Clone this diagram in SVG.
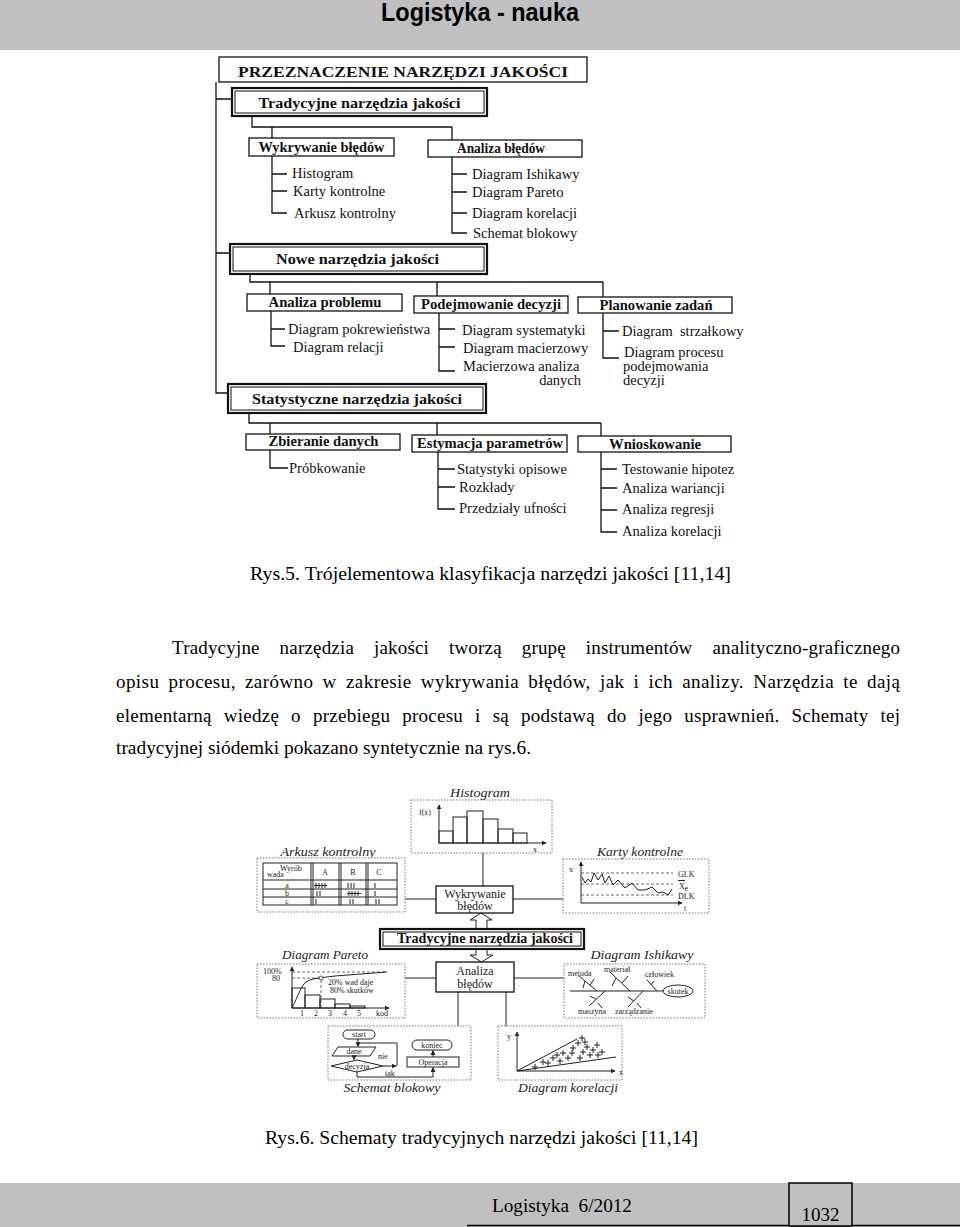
<svg xmlns="http://www.w3.org/2000/svg" width="960" height="1227" viewBox="0 0 960 1227">
<defs>
<style>
.bx{fill:#fff;stroke:#111;stroke-width:1.3}
.bo{fill:#fff;stroke:#111;stroke-width:2.2}
.bi{fill:none;stroke:#111;stroke-width:1}
.ln{fill:none;stroke:#111;stroke-width:1.3}
.tl{fill:none;stroke:#222;stroke-width:1}
.dot{fill:#fff;stroke:#777;stroke-width:1;stroke-dasharray:1.5 1.5}
.dsh{fill:none;stroke:#444;stroke-width:0.8;stroke-dasharray:3 2}
.h{font-family:"Liberation Serif",serif;font-weight:bold;font-size:15px;fill:#111;text-anchor:middle}
.it{font-family:"Liberation Serif",serif;font-size:14.5px;fill:#111}
.body{font-family:"Liberation Serif",serif;font-size:19px;fill:#000}
.lab{font-family:"Liberation Serif",serif;font-style:italic;font-size:12px;fill:#222;text-anchor:middle}
.sm{font-family:"Liberation Serif",serif;font-size:8px;fill:#222}
.md{font-family:"Liberation Serif",serif;font-size:12px;fill:#222;text-anchor:middle}
</style>
<marker id="ar" viewBox="0 0 8 8" refX="7" refY="4" markerWidth="5" markerHeight="5" orient="auto"><path d="M0,0 L8,4 L0,8 z" fill="#222"/></marker>
</defs>

<!-- header -->
<g id="header">
<rect x="0" y="0" width="960" height="50" fill="#c0c0c0"/>
<text x="480" y="21" text-anchor="middle" font-family="'Liberation Sans',sans-serif" font-weight="bold" font-size="25" textLength="198" lengthAdjust="spacingAndGlyphs">Logistyka - nauka</text>
</g>

<!-- ===== Rys.5 ===== -->
<g id="connectors-top">
<path class="ln" d="M216 82 V393 H228 M216 99 H232 M216 253 H230"/>
<path class="ln" d="M252 116 V127 H452 M272 127 V138 M452 127 V140"/>
<path class="ln" d="M272 156 V213 H287 M272 174 H287 M272 191 H287"/>
<path class="ln" d="M452 157 V233 H467 M452 174 H467 M452 192 H467 M452 213 H467"/>
<path class="ln" d="M250 274 V282 H603 M270 282 V294 M437 282 V296 M603 282 V297"/>
<path class="ln" d="M271 311 V346 H285 M271 329 H285"/>
<path class="ln" d="M439 313 V371 H455 M439 329 H455 M439 347 H455"/>
<path class="ln" d="M603 313 V358 H619 M603 331 H619"/>
<path class="ln" d="M249 413 V423 H601 M270 423 V434 M437 423 V435 M601 423 V436"/>
<path class="ln" d="M270 450 V468 H288"/>
<path class="ln" d="M438 452 V509 H455 M438 469 H455 M438 487 H455"/>
<path class="ln" d="M601 452 V532 H617 M601 469 H617 M601 488 H617 M601 510 H617"/>
</g>

<g id="przeznaczenie">
<rect class="bx" x="219" y="57" width="368" height="25"/>
<text class="h" x="403" y="77" font-size="16" textLength="330" lengthAdjust="spacingAndGlyphs">PRZEZNACZENIE NARZĘDZI JAKOŚCI</text>
</g>

<g id="tradycyjne">
<rect class="bo" x="232" y="88" width="255" height="28"/>
<rect class="bi" x="235" y="91" width="249" height="22"/>
<text class="h" x="359.5" y="108" font-size="16" textLength="202" lengthAdjust="spacingAndGlyphs">Tradycyjne narzędzia jakości</text>
</g>

<g id="wykrywanie">
<rect class="bx" x="249" y="138" width="145" height="18"/>
<text class="h" x="321.5" y="152" font-size="14" textLength="126" lengthAdjust="spacingAndGlyphs">Wykrywanie błędów</text>
<text class="it" x="292" y="178">Histogram</text>
<text class="it" x="293" y="196">Karty kontrolne</text>
<text class="it" x="294" y="218">Arkusz kontrolny</text>
</g>

<g id="analiza-bledow">
<rect class="bx" x="428" y="140" width="154" height="17"/>
<text class="h" x="501" y="153" font-size="14" textLength="88" lengthAdjust="spacingAndGlyphs">Analiza błędów</text>
<text class="it" x="472" y="179">Diagram Ishikawy</text>
<text class="it" x="472" y="197">Diagram Pareto</text>
<text class="it" x="472" y="218">Diagram korelacji</text>
<text class="it" x="473" y="238">Schemat blokowy</text>
</g>

<g id="nowe">
<rect class="bo" x="230" y="244" width="257" height="30"/>
<rect class="bi" x="233" y="247" width="251" height="24"/>
<text class="h" x="357.5" y="264" font-size="16" textLength="163" lengthAdjust="spacingAndGlyphs">Nowe narzędzia jakości</text>
</g>

<g id="analiza-problemu">
<rect class="bx" x="247" y="294" width="155" height="17"/>
<text class="h" x="325" y="307" font-size="14" textLength="113" lengthAdjust="spacingAndGlyphs">Analiza problemu</text>
<text class="it" x="288" y="334">Diagram pokrewieństwa</text>
<text class="it" x="293" y="352">Diagram relacji</text>
</g>

<g id="podejmowanie">
<rect class="bx" x="414" y="296" width="154" height="17"/>
<text class="h" x="491" y="309" font-size="14" textLength="140" lengthAdjust="spacingAndGlyphs">Podejmowanie decyzji</text>
<text class="it" x="462" y="335">Diagram systematyki</text>
<text class="it" x="463" y="353">Diagram macierzowy</text>
<text class="it" x="463" y="371">Macierzowa analiza</text>
<text class="it" x="581" y="385" text-anchor="end">danych</text>
</g>

<g id="planowanie">
<rect class="bx" x="578" y="297" width="154" height="16"/>
<text class="h" x="656" y="310" font-size="14" textLength="113" lengthAdjust="spacingAndGlyphs">Planowanie zadań</text>
<text class="it" x="622" y="336" xml:space="preserve">Diagram  strzałkowy</text>
<text class="it" x="624" y="357">Diagram procesu</text>
<text class="it" x="623" y="371">podejmowania</text>
<text class="it" x="623" y="385">decyzji</text>
</g>

<g id="statystyczne">
<rect class="bo" x="228" y="384" width="258" height="29"/>
<rect class="bi" x="231" y="387" width="252" height="23"/>
<text class="h" x="357" y="404" font-size="16" textLength="210" lengthAdjust="spacingAndGlyphs">Statystyczne narzędzia jakości</text>
</g>

<g id="zbieranie">
<rect class="bx" x="246" y="434" width="154" height="16"/>
<text class="h" x="323.5" y="446" font-size="14" textLength="110" lengthAdjust="spacingAndGlyphs">Zbieranie danych</text>
<text class="it" x="289" y="473">Próbkowanie</text>
</g>

<g id="estymacja">
<rect class="bx" x="412" y="435" width="155" height="17"/>
<text class="h" x="490" y="448" font-size="14" textLength="146" lengthAdjust="spacingAndGlyphs">Estymacja parametrów</text>
<text class="it" x="457" y="474">Statystyki opisowe</text>
<text class="it" x="459" y="492">Rozkłady</text>
<text class="it" x="459" y="513">Przedziały ufności</text>
</g>

<g id="wnioskowanie">
<rect class="bx" x="578" y="436" width="153" height="16"/>
<text class="h" x="655" y="449" font-size="14" textLength="92" lengthAdjust="spacingAndGlyphs">Wnioskowanie</text>
<text class="it" x="622" y="474">Testowanie hipotez</text>
<text class="it" x="622" y="493">Analiza wariancji</text>
<text class="it" x="622" y="514">Analiza regresji</text>
<text class="it" x="622" y="536">Analiza korelacji</text>
</g>

<g id="caption5">
<text class="body" x="250" y="580" textLength="481" lengthAdjust="spacingAndGlyphs">Rys.5. Trójelementowa klasyfikacja narzędzi jakości [11,14]</text>
</g>

<g id="paragraph">
<text class="body" x="172" y="654" word-spacing="15" textLength="728" lengthAdjust="spacing">Tradycyjne narzędzia jakości tworzą grupę instrumentów analityczno-graficznego</text>
<text class="body" x="116" y="688" word-spacing="4" textLength="784" lengthAdjust="spacing">opisu procesu, zarówno w zakresie wykrywania błędów, jak i ich analizy. Narzędzia te dają</text>
<text class="body" x="116" y="722" word-spacing="7" textLength="784" lengthAdjust="spacing">elementarną wiedzę o przebiegu procesu i są podstawą do jego usprawnień. Schematy tej</text>
<text class="body" x="116" y="754" textLength="415" lengthAdjust="spacingAndGlyphs">tradycyjnej siódemki pokazano syntetycznie na rys.6.</text>
</g>

<!-- ===== Rys.6 ===== -->
<g id="connectors-bottom">
<path class="tl" d="M483 853 V886"/>
<path class="tl" d="M405 899 H436 M513 899 H563"/>
<path class="tl" d="M405 978 H436 M514 978 H564"/>
<path class="tl" d="M458 992 V1026 M506 992 V1026"/>
<polygon points="481,913 492,920 487,920 487,929 476,929 476,920 470,920" fill="#fff" stroke="#222" stroke-width="1"/>
<polygon points="476,949 487,949 487,955 493,955 481.5,962 470,955 476,955" fill="#fff" stroke="#222" stroke-width="1"/>
</g>

<g id="histogram">
<text class="lab" x="480" y="797" textLength="60" lengthAdjust="spacingAndGlyphs">Histogram</text>
<rect class="dot" x="411" y="800" width="141" height="53"/>
<g class="tl">
<rect x="439" y="831" width="14" height="12"/>
<rect x="453" y="817" width="14" height="26"/>
<rect x="467" y="811" width="16" height="32"/>
<rect x="483" y="819" width="15" height="24"/>
<rect x="498" y="829" width="15" height="14"/>
<rect x="513" y="833" width="14" height="10"/>
</g>
<path class="tl" d="M439 843 V805" marker-end="url(#ar)"/>
<path class="tl" d="M439 843 H546" marker-end="url(#ar)"/>
<text class="sm" x="419" y="815">f(x)</text>
<text class="sm" x="533" y="852">x</text>
</g>

<g id="arkusz">
<text class="lab" x="328" y="856" textLength="95" lengthAdjust="spacingAndGlyphs">Arkusz kontrolny</text>
<rect class="dot" x="257" y="858" width="148" height="54"/>
<g class="tl">
<rect x="263" y="863" width="134" height="42"/>
<path d="M263 880 H397 M263 889 H397 M263 897 H397"/>
<path d="M311 863 V905 M313 863 V905 M339 863 V905 M341 863 V905 M366 863 V905 M368 863 V905"/>
<path d="M316 883 V888 M319 883 V888 M322 883 V888 M325 883 V888 M314 885.5 H327"/>
<path d="M348 883 V888 M351 883 V888 M354 883 V888 M375 883 V888"/>
<path d="M317 891 V896 M320 891 V896"/>
<path d="M349 891 V896 M352 891 V896 M355 891 V896 M358 891 V896 M347 893.5 H361"/>
<path d="M375 891 V896"/>
<path d="M316 899 V904 M350 899 V904 M353 899 V904 M376 899 V904 M379 899 V904"/>
</g>
<text class="sm" x="280" y="871" font-size="7">Wyrób</text>
<text class="sm" x="267" y="877" font-size="7">wada</text>
<text class="sm" x="325" y="875" text-anchor="middle">A</text>
<text class="sm" x="353" y="875" text-anchor="middle">B</text>
<text class="sm" x="379" y="875" text-anchor="middle">C</text>
<text class="sm" x="287" y="888" text-anchor="middle">a</text>
<text class="sm" x="287" y="896" text-anchor="middle">b</text>
<text class="sm" x="287" y="904" text-anchor="middle">c</text>
</g>

<g id="karty">
<text class="lab" x="640" y="856" textLength="86" lengthAdjust="spacingAndGlyphs">Karty kontrolne</text>
<rect class="dot" x="563" y="859" width="146" height="54"/>
<path class="dsh" d="M581 873 H673 M581 884 H673 M581 895 H673"/>
<path class="tl" d="M581 903 V862" marker-end="url(#ar)"/>
<path class="tl" d="M581 903 H682" marker-end="url(#ar)"/>
<polyline class="tl" points="582,877 585,883 588,879 591,882 594,873 598,880 602,874 605,883 609,876 613,885 618,880 625,888 632,883 638,890 645,890 652,887 658,893 663,892 668,895 672,889"/>
<text class="sm" x="569" y="872">x</text>
<text class="sm" x="678" y="877">GLK</text>
<text class="sm" x="679" y="889">X</text>
<path class="tl" d="M678 880.5 H685"/>
<text class="sm" x="684.5" y="891" font-size="5.5">e</text>
<text class="sm" x="678" y="899">DLK</text>
<text class="sm" x="684" y="911">t</text>
</g>

<g id="wykrywanie-b">
<rect class="bx" x="436" y="886" width="77" height="27" stroke-width="1"/>
<text class="md" x="475" y="898">Wykrywanie</text>
<text class="md" x="475" y="910">błędów</text>
</g>

<g id="tradycyjne-b">
<rect class="bo" x="380" y="929" width="204" height="20" stroke-width="1.8"/>
<rect class="bi" x="383" y="932" width="198" height="14" stroke-width="0.8"/>
<text class="h" x="485" y="943" font-size="12" textLength="176" lengthAdjust="spacingAndGlyphs">Tradycyjne narzędzia jakości</text>
</g>

<g id="analiza-b">
<rect class="bx" x="436" y="962" width="78" height="30" stroke-width="1"/>
<text class="md" x="475" y="975">Analiza</text>
<text class="md" x="475" y="988">błędów</text>
</g>

<g id="pareto">
<text class="lab" x="325" y="959" textLength="86" lengthAdjust="spacingAndGlyphs">Diagram Pareto</text>
<rect class="dot" x="257" y="964" width="148" height="54"/>
<path class="dsh" d="M292 972 H387 M292 978 H320 M321 980 V1008"/>
<g class="tl">
<rect x="292" y="988" width="13" height="20"/>
<rect x="305" y="995" width="15" height="13"/>
<rect x="320" y="999" width="15" height="9"/>
<rect x="335" y="1004" width="15" height="4"/>
<rect x="350" y="1006" width="15" height="2"/>
</g>
<path class="tl" d="M292 1008 C298 996 301 986 306 982 C312 978 320 978 335 976 L387 972"/>
<circle cx="321" cy="978" r="2" fill="#fff" stroke="#222" stroke-width="0.8"/>
<path class="tl" d="M292 1008 V967" marker-end="url(#ar)"/>
<path class="tl" d="M292 1008 H389" marker-end="url(#ar)"/>
<text class="sm" x="263" y="974">100%</text>
<text class="sm" x="272" y="981">80</text>
<text class="sm" x="328" y="985">20% wad daje</text>
<text class="sm" x="330" y="993">80% skutków</text>
<text class="sm" x="302" y="1016" text-anchor="middle">1</text>
<text class="sm" x="316" y="1016" text-anchor="middle">2</text>
<text class="sm" x="330" y="1016" text-anchor="middle">3</text>
<text class="sm" x="345" y="1016" text-anchor="middle">4</text>
<text class="sm" x="359" y="1016" text-anchor="middle">5</text>
<text class="sm" x="382" y="1016" text-anchor="middle">kod</text>
</g>

<g id="ishikawa">
<text class="lab" x="642" y="959" textLength="103" lengthAdjust="spacingAndGlyphs">Diagram Ishikawy</text>
<rect class="dot" x="564" y="964" width="141" height="54"/>
<g class="tl">
<path d="M570 991 H663"/>
<path d="M597 991 L579 976 M585 981 L583 988 M590 985 L594 979"/>
<path d="M630 991 L610 972 M616 978 L612 986 M622 983 L628 976"/>
<path d="M657 991 L647 980 M651 985 L654 981"/>
<path d="M605 991 L589 1006 M596 999 L590 996 M598 1003 L602 1008"/>
<path d="M643 991 L628 1007 M634 1001 L628 997 M637 1003 L641 1008"/>
<ellipse cx="678" cy="991" rx="15" ry="6"/>
</g>
<text class="sm" x="568" y="976" font-size="7.5">metoda</text>
<text class="sm" x="604" y="972" font-size="7.5">materiał</text>
<text class="sm" x="645" y="977" font-size="7.5">człowiek</text>
<text class="sm" x="678" y="993.5" font-size="7.5" text-anchor="middle">skutek</text>
<text class="sm" x="578" y="1014" font-size="7.5">maszyna</text>
<text class="sm" x="615" y="1014" font-size="7.5">zarządzanie</text>
</g>

<g id="schemat">
<rect class="dot" x="328" y="1026" width="143" height="54"/>
<text class="lab" x="392" y="1092" textLength="97" lengthAdjust="spacingAndGlyphs">Schemat blokowy</text>
<g class="tl">
<rect x="343" y="1030" width="32" height="9" rx="4.5"/>
<path d="M358 1039 V1046.5" marker-end="url(#ar)"/>
<path d="M358 1043 H397 V1066"/>
<path d="M383 1066 H396" marker-end="url(#ar)"/>
<polygon points="338,1047 376,1047 370,1056 332,1056"/>
<path d="M354 1056 V1059.5" marker-end="url(#ar)"/>
<polygon points="357,1060 383,1066 357,1072 331,1066"/>
<path d="M357 1072 V1077 H433 V1067.5" marker-end="url(#ar)"/>
<rect x="407" y="1057" width="52" height="10"/>
<path d="M433 1057 V1050.5" marker-end="url(#ar)"/>
<rect x="412" y="1040" width="40" height="10" rx="5"/>
</g>
<text class="sm" x="359" y="1037" font-size="7.5" text-anchor="middle">start</text>
<text class="sm" x="354" y="1054" font-size="7.5" text-anchor="middle">dane</text>
<text class="sm" x="357" y="1069" font-size="7.5" text-anchor="middle">decyzja</text>
<text class="sm" x="378" y="1059" font-size="7.5">nie</text>
<text class="sm" x="385" y="1076" font-size="7.5">tak</text>
<text class="sm" x="433" y="1065" font-size="7.5" text-anchor="middle">Operacja</text>
<text class="sm" x="432" y="1048" font-size="7.5" text-anchor="middle">koniec</text>
</g>

<g id="korelacja">
<rect class="dot" x="498" y="1026" width="124" height="54"/>
<text class="lab" x="568" y="1092" textLength="100" lengthAdjust="spacingAndGlyphs">Diagram korelacji</text>
<g class="tl">
<path d="M517 1071 V1032" marker-end="url(#ar)"/>
<path d="M517 1071 H615" marker-end="url(#ar)"/>
<path d="M517 1071 L577 1039 M517 1071 L616 1057"/>
<path d="M532 1067 h6 M535 1064 v6 M540 1062 h6 M543 1059 v6 M545 1063 h6 M548 1060 v6 M550 1058 h6 M553 1055 v6 M554 1055 h6 M557 1052 v6 M557 1061 h6 M560 1058 v6 M560 1053 h6 M563 1050 v6 M565 1058 h6 M568 1055 v6 M569 1053 h6 M572 1050 v6 M570 1048 h6 M573 1045 v6 M575 1043 h6 M578 1040 v6 M579 1038 h6 M582 1035 v6 M577 1058 h6 M580 1055 v6 M580 1052 h6 M583 1049 v6 M584 1047 h6 M587 1044 v6 M587 1055 h6 M590 1052 v6 M590 1050 h6 M593 1047 v6 M594 1045 h6 M597 1042 v6 M595 1055 h6 M598 1052 v6 M599 1052 h6 M602 1049 v6 M582 1042 h6 M585 1039 v6"/>
</g>
<text class="sm" x="507" y="1039">y</text>
<text class="sm" x="619" y="1075">x</text>
</g>

<g id="caption6">
<text class="body" x="265" y="1144" textLength="433" lengthAdjust="spacingAndGlyphs">Rys.6. Schematy tradycyjnych narzędzi jakości [11,14]</text>
</g>

<!-- footer -->
<g id="footer">
<rect x="0" y="1183" width="960" height="44" fill="#c0c0c0"/>
<path d="M467 1225.5 H960" stroke="#000" stroke-width="1.5"/>
<rect x="789" y="1183" width="63" height="43" fill="#c0c0c0" stroke="#000" stroke-width="1.5"/>
<text class="body" x="820.5" y="1221" text-anchor="middle" font-size="18">1032</text>
<text class="body" x="492" y="1212" xml:space="preserve" textLength="140" lengthAdjust="spacingAndGlyphs">Logistyka  6/2012</text>
</g>
</svg>
